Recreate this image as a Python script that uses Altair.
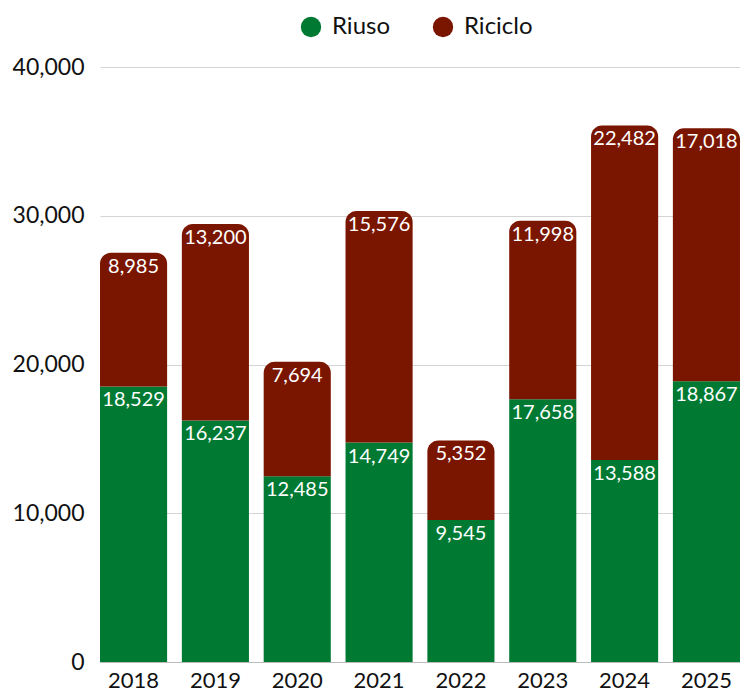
import altair as alt
import pandas as pd

years = ["2018", "2019", "2020", "2021", "2022", "2023", "2024", "2025"]
riuso = [18529, 16237, 12485, 14749, 9545, 17658, 13588, 18867]
riciclo = [8985, 13200, 7694, 15576, 5352, 11998, 22482, 17018]

GREEN = "#007a33"
RED = "#7a1500"
FONT = "Lato"

rows = []
for y, a, b in zip(years, riuso, riciclo):
    rows.append({"anno": y, "serie": "Riuso", "start": 0, "end": a, "val": a})
    rows.append({"anno": y, "serie": "Riciclo", "start": a, "end": a + b, "val": b})
df = pd.DataFrame(rows)

color = alt.Color(
    "serie:N",
    scale=alt.Scale(domain=["Riuso", "Riciclo"], range=[GREEN, RED]),
    legend=alt.Legend(
        title=None, orient="none", direction="horizontal", legendX=199, legendY=-52,
        symbolType="circle", symbolSize=415, labelFontSize=24, labelFont=FONT,
        labelColor="#111", columnPadding=40, symbolStrokeWidth=0, labelOffset=9,
    ),
)

x = alt.X(
    "anno:N", title=None, sort=years,
    scale=alt.Scale(paddingInner=0.18, paddingOuter=0),
    axis=alt.Axis(labelAngle=0, labelFontSize=22, labelFont=FONT, labelColor="#111",
                  ticks=False, domain=True, domainColor="#bbbbbb", labelPadding=8),
)
yaxis = alt.Axis(values=[0, 10000, 20000, 30000, 40000], format=",.0f", labelFontSize=23,
                 labelFont=FONT, labelColor="#111", ticks=False, domain=False,
                 gridColor="#d4d4d4", labelPadding=16)
yscale = alt.Scale(domain=[0, 40000], nice=False)

base = alt.Chart(df)

green_bars = base.transform_filter(alt.datum.serie == "Riuso").mark_bar().encode(
    x=x, y=alt.Y("start:Q", title=None, scale=yscale, axis=yaxis), y2="end:Q", color=color
)
red_bars = base.transform_filter(alt.datum.serie == "Riciclo").mark_bar(
    cornerRadiusTopLeft=11, cornerRadiusTopRight=11
).encode(x=x, y=alt.Y("start:Q", title=None, scale=yscale, axis=yaxis), y2="end:Q", color=color)

labels = base.mark_text(
    baseline="top", dy=4, color="white", fontSize=20, font=FONT
).encode(
    x=x, y=alt.Y("end:Q", title=None, scale=yscale, axis=yaxis),
    text=alt.Text("val:Q", format=",")
)

chart = alt.layer(green_bars, red_bars, labels).properties(
    width=640, height=595,
    autosize=alt.AutoSizeParams(type="none"),
    padding={"left": 92, "top": 59, "right": 0, "bottom": 40},
).configure_view(stroke=None)

chart.save("out.html", embed_options={"renderer": "svg", "actions": False})
